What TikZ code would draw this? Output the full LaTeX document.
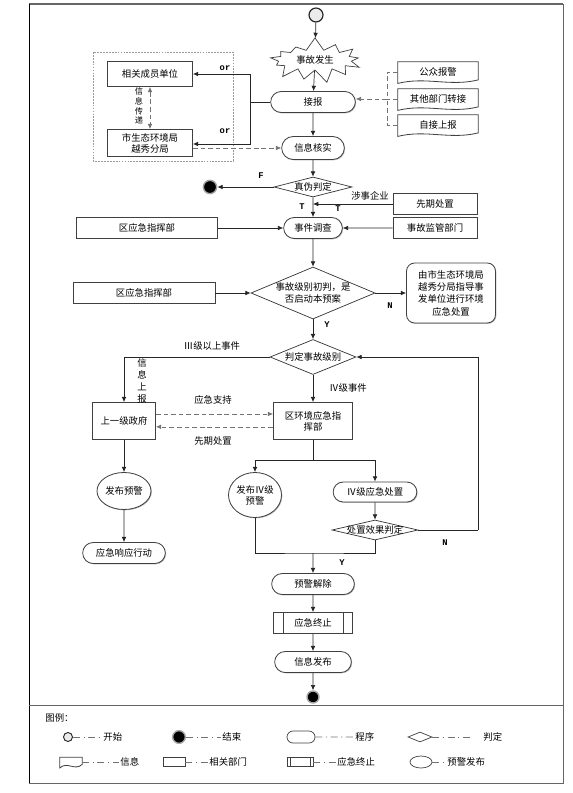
\documentclass[tikz,border=0pt]{standalone}
\usepackage{fontspec}
\setmainfont{Noto Sans CJK SC}
\setmonofont{Liberation Mono}
\usetikzlibrary{shapes.geometric,shapes.misc,shapes.symbols,calc,shadows,arrows.meta}

% bottom of a document shape, drawn over a plain node
\newcommand{\docframe}[1]{%
  \draw[black!75, line width=0.7pt] (#1.north west) -- (#1.north east) -- ([yshift=2pt]#1.south east)
    .. controls ($(#1.south east)!0.35!(#1.south west)+(0,-4pt)$) and ($(#1.south east)!0.65!(#1.south west)+(0,5pt)$)
    .. ([yshift=-1pt]#1.south west) -- cycle;}
% two inner bars of the predefined process
\newcommand{\barframe}[2]{%
  \draw[black!75, line width=0.6pt] ([xshift=#2]#1.north west) -- ([xshift=#2]#1.south west)
    ([xshift=-#2]#1.north east) -- ([xshift=-#2]#1.south east);}

\begin{document}
\begin{tikzpicture}[x=0.03cm, y=-0.03cm, font=\fontsize{8}{9.5}\selectfont,
  flow/.style={-{Latex[length=4.5pt,width=4pt]}, black!85, line width=0.6pt},
  dflow/.style={flow, dash pattern=on 4pt off 2.5pt, black!55},
  shade/.style={drop shadow={shadow xshift=0.7pt, shadow yshift=-0.7pt, fill=black!35, opacity=0.8}},
  box/.style={rectangle, draw=black!75, line width=0.7pt, fill=white, inner sep=1pt, align=center, shade},
  pill/.style={rounded rectangle, draw=black!75, line width=0.7pt, fill=white, inner sep=1pt, align=center, shade},
  judge/.style={diamond, draw=black!80, line width=0.6pt, fill=white, inner sep=0pt},
  oval/.style={ellipse, draw=black!75, line width=0.7pt, fill=white, inner sep=0pt, align=center, shade},
  doc/.style={rectangle, minimum width=2.4cm, minimum height=0.6cm, inner sep=1pt},
  startpt/.style={circle, draw=black!85, line width=1pt, fill=black!8, inner sep=0pt},
  endpt/.style={circle, draw=black!35, line width=1.2pt, fill=black, inner sep=0pt},
  tag/.style={font=\ttfamily\bfseries\fontsize{7.5}{8}\selectfont, inner sep=1pt},
  note/.style={inner sep=1pt, align=center},
  legline/.style={dash pattern=on 6pt off 3pt on 1pt off 3pt, black!55, line width=0.6pt}
]
\useasboundingbox (0,0) rectangle (573,793);

% frame
\draw[black!60, line width=1.3pt] (29,4) -- (563,4);
\draw[black!60, line width=0.8pt] (563,4) -- (563,783) -- (29,783);
\draw[black, line width=0.8pt] (29,4) -- (29,783);
\draw[black!60, line width=0.8pt] (29,705) -- (563,705);

% reporting group
\draw[dash pattern=on 1.5pt off 1pt, black!40, line width=0.4pt] (93,52) rectangle (233,161);

% main column
\node[startpt, minimum size=0.42cm] (start) at (316,15) {};
\node[starburst, starburst points=13, starburst point height=0.4cm, random starburst=7,
      draw=black!75, fill=white, line width=0.6pt, minimum width=3cm, minimum height=1.4cm,
      inner sep=0pt] (accident) at (315,60) {事故发生};
\node[pill, minimum width=2.61cm, minimum height=0.63cm] (recv) at (313,102) {接报};
\node[pill, minimum width=1.95cm, minimum height=0.69cm] (verify) at (313,148) {信息核实};
\node[judge, minimum width=2.34cm, minimum height=0.6cm, label={center:真伪判定}] (truth) at (313,187) {};
\node[endpt, minimum size=0.4cm] (endA) at (210,187) {};
\node[pill, minimum width=1.83cm, minimum height=0.63cm] (survey) at (313,228) {事件调查};
\node[judge, minimum width=3.72cm, minimum height=1.56cm,
      label={[align=center]center:事故级别初判，是\\否启动本预案}] (grade) at (313,293) {};
\node[judge, minimum width=2.58cm, minimum height=1.05cm, label={center:判定事故级别}] (level) at (313,357) {};
\node[box, minimum width=2.37cm, minimum height=1.11cm] (district) at (313,421) {区环境应急指\\挥部};
\node[pill, minimum width=2.55cm, minimum height=0.63cm] (lift) at (313,584) {预警解除};
\node[box, minimum width=2.37cm, minimum height=0.63cm] (stop) at (313,623) {应急终止};
\barframe{stop}{0.3cm}
\node[pill, minimum width=2.37cm, minimum height=0.63cm] (publish) at (313,662) {信息发布};
\node[endpt, minimum size=0.36cm] (endB) at (313,697) {};

% left side
\node[box, minimum width=2.55cm, minimum height=0.75cm] (member) at (150,74) {相关成员单位};
\node[box, minimum width=2.55cm, minimum height=0.81cm] (bureau) at (150,143) {市生态环境局\\越秀分局};
\node[box, minimum width=4.23cm, minimum height=0.63cm] (cmdA) at (147,228) {区应急指挥部};
\node[box, minimum width=4.26cm, minimum height=0.63cm] (cmdB) at (144,293) {区应急指挥部};
\node[box, minimum width=1.89cm, minimum height=1.11cm] (upper) at (124,421) {上一级政府};
\node[oval, minimum width=1.62cm, minimum height=1.11cm] (warn) at (124,491) {发布预警};
\node[pill, minimum width=2.55cm, minimum height=0.63cm] (act) at (124,553) {应急响应行动};

% right side
\node[doc] (public) at (438,72) {公众报警};
\docframe{public}
\node[doc] (transfer) at (438,99) {其他部门转接};
\docframe{transfer}
\node[doc] (self) at (438,125) {自接上报};
\docframe{self}
\node[box, minimum width=2.52cm, minimum height=0.63cm] (early) at (435,204) {先期处置};
\node[box, minimum width=2.52cm, minimum height=0.63cm] (super) at (435,228) {事故监管部门};
\node[box, rounded corners=7pt, minimum width=2.67cm, minimum height=1.8cm,
      font=\fontsize{8}{10.5}\selectfont] (guide) at (451,293) {由市生态环境局\\越秀分局指导事\\发单位进行环境\\应急处置};

% lower branch
\node[oval, minimum width=1.56cm, minimum height=1.35cm] (warnIV) at (255,495) {发布Ⅳ级\\预警};
\node[pill, minimum width=2.58cm, minimum height=0.6cm] (handle) at (375,492) {Ⅳ级应急处置};
\node[judge, minimum width=2.58cm, minimum height=0.6cm, label={center:处置效果判定}] (effect) at (375,530) {};

% junction points
\coordinate (jRecv) at (250,102);
\coordinate (jDocs) at (387,99);
\coordinate (jEarly) at (313,204);
\coordinate (jSplit) at (313,460);
\coordinate (jMerge) at (313,553);
\coordinate (jLoop) at (478,530);

% connectors
\draw[flow] (start) -- (accident);
\draw[flow] (accident) -- (recv);
\draw[flow] (recv) -- (verify);
\draw[black!85, line width=0.8pt] (recv) -- (jRecv);
\draw[flow] (jRecv) |- (member);
\draw[flow] (jRecv) |- (bureau.east |- 0,144);
\draw[dflow, {Latex[length=4.5pt,width=4pt]}-{Latex[length=4.5pt,width=4pt]}] (member) -- (bureau);
\draw[dflow] (bureau.east |- verify.west) -- (verify.west);
\draw[dash pattern=on 4pt off 2.5pt, black!55, line width=0.6pt]
  (public.west) -| (jDocs) (transfer.west) -- (jDocs) (self.west) -| (jDocs);
\draw[dflow] (jDocs) -- (recv.east |- jDocs);
\draw[flow] (verify) -- (truth);
\draw[flow] (truth) -- (endA);
\draw[flow] (truth) -- (survey);
\draw[flow] (early) -- (jEarly);
\draw[flow] (super) -- (survey);
\draw[flow] (cmdA) -- (survey);
\draw[flow] (survey) -- (grade);
\draw[flow] (cmdB) -- (grade);
\draw[flow] (grade) -- (guide);
\draw[flow] (grade) -- (level);
\draw[flow] (level) -| (upper);
\draw[flow] (level) -- (district);
\draw[dflow] ([yshift=6pt]upper.east) -- ([yshift=6pt]upper.east -| district.west);
\draw[dflow] ([yshift=-5pt]district.west) -- ([yshift=-5pt]district.west -| upper.east);
\draw[flow] (upper) -- (warn);
\draw[flow] (warn) -- (act);
\draw[black!85, line width=0.6pt] (district) -- (jSplit);
\draw[flow] (jSplit) -| (warnIV);
\draw[flow] (jSplit) -| (handle);
\draw[flow] (handle) -- (effect);
\draw[black!85, line width=0.6pt] (effect) -- (jLoop);
\draw[flow] (jLoop) |- (level);
\draw[black!85, line width=0.6pt] (warnIV) |- (jMerge) -| (effect);
\draw[flow] (jMerge) -- (lift);
\draw[flow] (lift) -- (stop);
\draw[flow] (stop) -- (publish);
\draw[flow] (publish) -- (endB);

% connector labels
\node[tag] (orA) at (225,68) {or};
\node[tag] (orB) at (225,131) {or};
\node[note, font=\fontsize{7}{8.3}\selectfont] (lbPass) at (139,106) {信\\息\\传\\递};
\node[tag] (lbF) at (261,176) {F};
\node[tag] (lbTa) at (302,207) {T};
\node[note] (lbFirm) at (370,196) {涉事企业};
\node[tag] (lbTb) at (338,209) {T};
\node[tag] (lbNa) at (390,306) {N};
\node[tag] (lbYa) at (327,325) {Y};
\node[note] (lbHigh) at (212,346) {Ⅲ级以上事件};
\node[note, font=\fontsize{8}{10}\selectfont] (lbUp) at (142,381) {信\\息\\上\\报};
\node[note] (lbFour) at (348,388) {Ⅳ级事件};
\node[note] (lbHelp) at (213,400) {应急支持};
\node[note] (lbFirst) at (213,441) {先期处置};
\node[tag] (lbNb) at (445,543) {N};
\node[tag] (lbYb) at (342,563) {Y};

% legend
\node[note, anchor=west] (lgTitle) at (44,718) {图例：};
\node[startpt, minimum size=0.27cm, line width=0.8pt] (lgStart) at (68,737) {};
\node[note, anchor=west] (lgStartT) at (102,737) {开始};
\draw[legline] (lgStart) -- (lgStartT);
\node[endpt, minimum size=0.38cm] (lgEnd) at (179,737) {};
\node[note, anchor=west] (lgEndT) at (221,737) {结束};
\draw[legline] (lgEnd) -- (lgEndT);
\node[rounded rectangle, draw=black!75, line width=0.6pt, minimum width=0.84cm, minimum height=0.36cm, inner sep=0pt] (lgProc) at (301,737) {};
\node[note, anchor=west] (lgProcT) at (354,737) {程序};
\draw[legline] (lgProc) -- (lgProcT);
\node[diamond, draw=black!75, line width=0.6pt, aspect=2.4, minimum width=0.72cm, minimum height=0.3cm, inner sep=0pt] (lgJudge) at (420,737) {};
\coordinate (lgJudgeE) at (472,737);
\node[note, anchor=west] (lgJudgeT) at (482,737) {判定};
\draw[legline] (lgJudge) -- (lgJudgeE);
\node[rectangle, minimum width=0.66cm, minimum height=0.27cm, inner sep=0pt] (lgDoc) at (71,762) {};
\docframe{lgDoc}
\node[note, anchor=west] (lgDocT) at (119,762) {信息};
\draw[legline] (lgDoc) -- (lgDocT);
\node[rectangle, draw=black!75, line width=0.6pt, minimum width=0.66cm, minimum height=0.27cm, inner sep=0pt] (lgDept) at (174,762) {};
\node[note, anchor=west] (lgDeptT) at (208,762) {相关部门};
\draw[legline] (lgDept) -- (lgDeptT);
\node[rectangle, draw=black!75, line width=0.6pt, minimum width=0.78cm, minimum height=0.27cm, inner sep=0pt] (lgStop) at (300,762) {};
\barframe{lgStop}{0.1cm}
\node[note, anchor=west] (lgStopT) at (336,762) {应急终止};
\draw[legline] (lgStop) -- (lgStopT);
\node[ellipse, draw=black!75, line width=0.6pt, minimum width=0.66cm, minimum height=0.36cm, inner sep=0pt] (lgWarn) at (421,762) {};
\node[note, anchor=west] (lgWarnT) at (446,762) {预警发布};
\draw[legline] (lgWarn) -- (lgWarnT);

\end{tikzpicture}
\end{document}
